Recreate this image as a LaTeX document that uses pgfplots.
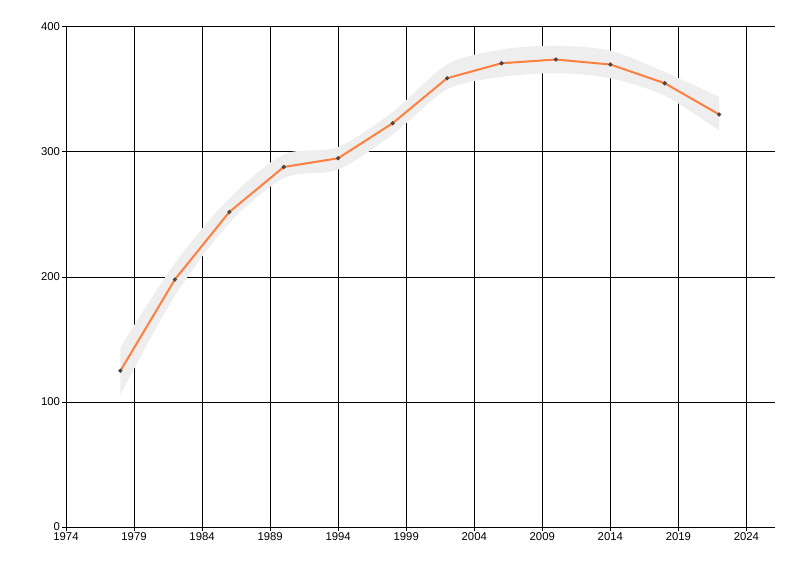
\documentclass[border=0pt]{standalone}
\usepackage{fontspec}
\setmainfont{Liberation Sans}
\usepackage{pgfplots}
\pgfplotsset{compat=1.18}
\usepgfplotslibrary{fillbetween}
\definecolor{lineor}{RGB}{255,127,63}
\definecolor{bandgray}{RGB}{238,238,238}
\definecolor{markgray}{RGB}{70,70,70}
\begin{document}
\begin{tikzpicture}
\begin{axis}[
  at={(49.5pt,36.75pt)}, anchor=south west,
  scale only axis, width=531.75pt, height=375pt,
  xmin=1974, xmax=2026.1, ymin=0, ymax=400,
  axis x line*=bottom, axis y line*=left,
  axis line style={black, line width=0.75pt, -},
  xtick={1974,1979,...,2024}, ytick={0,100,200,300,400},
  grid=major, major grid style={black, line width=0.75pt},
  tick align=outside, major tick length=3pt,
  tick style={black, line width=0.75pt},
  x tick label style={/pgf/number format/1000 sep={}, font=\fontsize{8.5}{10}\selectfont, yshift=2pt},
  y tick label style={font=\fontsize{8.5}{10}\selectfont, xshift=2pt},
  /pgf/number format/assume math mode=true,
]
\addplot[draw=none, name path=U, smooth, forget plot] coordinates {
(1978,144) (1982,211) (1986,263) (1990,298) (1994,304) (1998,332) (2002,370) (2006,382) (2010,385) (2014,381) (2018,364) (2022,344)};
\addplot[draw=none, name path=L, smooth, forget plot] coordinates {
(1978,106) (1982,185) (1986,243) (1990,279) (1994,286) (1998,314) (2002,350) (2006,360) (2010,363) (2014,359) (2018,345) (2022,317)};
\addplot[fill=bandgray, draw=none, forget plot] fill between[of=U and L];
\addplot[lineor, line width=1.5pt, mark=*, mark size=0.65pt, mark options={fill=markgray, draw=markgray}] coordinates {
(1978,125) (1982,198) (1986,252) (1990,288) (1994,295) (1998,323) (2002,359) (2006,371) (2010,374) (2014,370) (2018,355) (2022,330)};
\end{axis}
\path (0,0) rectangle (600pt,432pt);
\end{tikzpicture}
\end{document}
